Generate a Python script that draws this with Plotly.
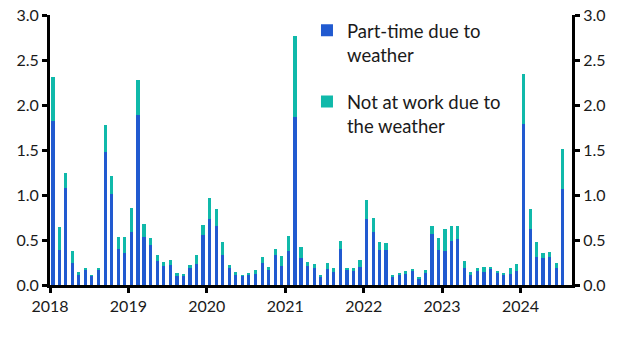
import plotly.graph_objects as go
import pandas as pd

months = pd.date_range("2018-01-01", "2024-07-01", freq="MS") + pd.Timedelta(days=14)

part_time = [
    1.82, 0.39, 1.08, 0.24, 0.11, 0.17, 0.10, 0.17, 1.48, 1.01, 0.40, 0.36,
    0.59, 1.89, 0.53, 0.44, 0.27, 0.21, 0.22, 0.11, 0.11, 0.19, 0.23, 0.56,
    0.73, 0.66, 0.33, 0.19, 0.11, 0.10, 0.12, 0.12, 0.24, 0.17, 0.33, 0.21,
    0.38, 1.87, 0.30, 0.21, 0.19, 0.09, 0.18, 0.14, 0.40, 0.17, 0.16, 0.20,
    0.73, 0.59, 0.39, 0.39, 0.09, 0.12, 0.12, 0.16, 0.07, 0.13, 0.57, 0.39,
    0.38, 0.49, 0.51, 0.19, 0.12, 0.16, 0.14, 0.18, 0.13, 0.12, 0.12, 0.16,
    1.79, 0.62, 0.31, 0.30, 0.31, 0.19, 1.07,
]
not_at_work = [
    0.49, 0.25, 0.16, 0.14, 0.03, 0.01, 0.01, 0.02, 0.30, 0.20, 0.13, 0.17,
    0.27, 0.39, 0.15, 0.08, 0.06, 0.05, 0.06, 0.02, 0.01, 0.03, 0.10, 0.11,
    0.24, 0.18, 0.15, 0.03, 0.03, 0.01, 0.01, 0.05, 0.07, 0.03, 0.07, 0.11,
    0.16, 0.90, 0.12, 0.05, 0.04, 0.02, 0.06, 0.05, 0.09, 0.02, 0.03, 0.08,
    0.21, 0.15, 0.09, 0.08, 0.02, 0.01, 0.04, 0.02, 0.02, 0.04, 0.09, 0.13,
    0.24, 0.17, 0.15, 0.08, 0.02, 0.03, 0.06, 0.01, 0.03, 0.01, 0.07, 0.07,
    0.55, 0.22, 0.17, 0.06, 0.06, 0.05, 0.44,
]
year_ticks = ["2018-01-01", "2019-01-01", "2020-01-01", "2021-01-01",
              "2022-01-01", "2023-01-01", "2024-01-01"]
year_labels = ["2018", "2019", "2020", "2021", "2022", "2023", "2024"]
y_ticks = [0, 0.5, 1.0, 1.5, 2.0, 2.5, 3.0]
y_labels = ["0.0", "0.5", "1.0", "1.5", "2.0", "2.5", "3.0"]

BLUE = "#215ad0"
TEAL = "#10b9aa"
FONT = "Lato"
bar_w = 15 * 86400000

fig = go.Figure()
fig.add_trace(go.Bar(x=months, y=part_time, name="Part-time due to<br>weather",
                     marker_color=BLUE, marker_line_width=0, width=bar_w,
                     legendgroup="a"))
fig.add_trace(go.Bar(x=months, y=not_at_work, name="Not at work due to<br>the weather",
                     marker_color=TEAL, marker_line_width=0, width=bar_w,
                     legendgroup="b"))
fig.add_trace(go.Scatter(x=[], y=[], yaxis="y2", showlegend=False))

axis_common = dict(showline=True, linecolor="black", linewidth=3,
                   ticks="outside", tickwidth=3, ticklen=5, tickcolor="black",
                   showgrid=False, zeroline=False, automargin=False,
                   tickfont=dict(family=FONT, size=16, color="#1a1a1a"))

fig.update_layout(
    width=625, height=340,
    margin=dict(l=50, r=53, t=15, b=55),
    paper_bgcolor="white", plot_bgcolor="white",
    barmode="stack",
    font=dict(family=FONT, size=16, color="#1a1a1a"),
    xaxis=dict(type="date", range=["2018-01-01", "2024-08-28"],
               tickvals=year_ticks, ticktext=year_labels, **axis_common),
    yaxis=dict(range=[0, 3], tickvals=y_ticks, ticktext=y_labels, **axis_common),
    yaxis2=dict(range=[0, 3], tickvals=y_ticks, ticktext=y_labels,
                overlaying="y", side="right", **axis_common),
    legend=dict(x=0.4923, y=1.012, xanchor="left", yanchor="top",
                font=dict(family=FONT, size=18.5, color="#1a1a1a"),
                bgcolor="rgba(0,0,0,0)", traceorder="grouped",
                tracegroupgap=20, valign="top", itemwidth=30),
)

fig.write_html("out.html")
